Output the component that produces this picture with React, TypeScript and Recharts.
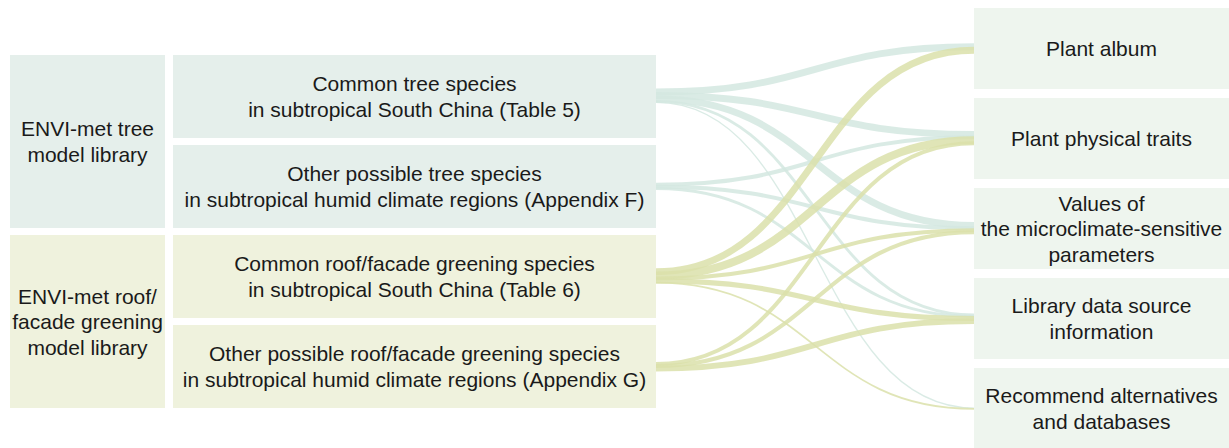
import React from 'react';
import { LineChart, Line, XAxis, YAxis, ReferenceArea } from 'recharts';

// ---------- data ----------
const groupLabels = ['ENVI-met tree\nmodel library', 'ENVI-met roof/\nfacade greening\nmodel library'];
const sourceLabels = [
  'Common tree species\nin subtropical South China (Table 5)',
  'Other possible tree species\nin subtropical humid climate regions (Appendix F)',
  'Common roof/facade greening species\nin subtropical South China (Table 6)',
  'Other possible roof/facade greening species\nin subtropical humid climate regions (Appendix G)',
];
const sourceGroup = [0, 0, 1, 1];
const targetLabels = [
  'Plant album',
  'Plant physical traits',
  'Values of\nthe microclimate-sensitive\nparameters',
  'Library data source\ninformation',
  'Recommend alternatives\nand databases',
];
const linkSource = [0, 0, 0, 0, 0, 1, 1, 1, 2, 2, 2, 2, 2, 3, 3, 3];
const linkTarget = [0, 1, 2, 3, 4, 1, 2, 3, 0, 1, 2, 3, 4, 1, 2, 3];
const linkValue = [6, 6, 6, 2.5, 1.2, 3.5, 3.5, 2.5, 6, 7, 3.5, 4.5, 1.5, 3.5, 3.5, 5];

// ---------- layout & styles ----------
const W = 1229;
const H = 448;
const FONT = '"Liberation Sans", Arial, Helvetica, sans-serif';
const FONT_SIZE = 21;
const LINE_H = 25.5;
const groupBoxFill = ['#e5efeb', '#eff2dd'];
const linkColor = ['#d3e8e1', '#dae1aa'];
const rightBoxFill = '#eef5ee';
const GROUP_COL = { x1: 10, x2: 165 };
const MID_COL = { x1: 173, x2: 656, top: 55, pitch: 90, h: 83 };
const RIGHT_COL = { x1: 974, x2: 1229, top: 8, pitch: 90, h: 81 };
const WIDTH_SCALE = 1.15; // stroke px per unit of value
const SQUEEZE = 0.5; // bundling of links where they meet a box

const midTop = (i: number) => MID_COL.top + i * MID_COL.pitch;
const rightTop = (j: number) => RIGHT_COL.top + j * RIGHT_COL.pitch;

// link table built from the arrays above
function buildLinks() {
  const n = linkSource.length;
  const sOff: number[] = new Array(n).fill(0);
  const tOff: number[] = new Array(n).fill(0);
  sourceLabels.forEach((_, s) => {
    const idx = linkSource.map((v, i) => i).filter((i) => linkSource[i] === s).sort((a, b) => linkTarget[a] - linkTarget[b]);
    const tot = idx.reduce((acc, i) => acc + linkValue[i] * WIDTH_SCALE, 0);
    let cum = -tot / 2;
    idx.forEach((i) => {
      const w = linkValue[i] * WIDTH_SCALE;
      sOff[i] = (cum + w / 2) * SQUEEZE;
      cum += w;
    });
  });
  targetLabels.forEach((_, t) => {
    const idx = linkTarget.map((v, i) => i).filter((i) => linkTarget[i] === t).sort((a, b) => linkSource[a] - linkSource[b]);
    const tot = idx.reduce((acc, i) => acc + linkValue[i] * WIDTH_SCALE, 0);
    let cum = -tot / 2;
    idx.forEach((i) => {
      const w = linkValue[i] * WIDTH_SCALE;
      tOff[i] = (cum + w / 2) * SQUEEZE;
      cum += w;
    });
  });
  return linkSource.map((s, i) => {
    const t = linkTarget[i];
    return {
      key: `link-${i}`,
      group: sourceGroup[s],
      width: linkValue[i] * WIDTH_SCALE,
      data: [
        { x: MID_COL.x2, y: midTop(s) + MID_COL.h / 2 + sOff[i] },
        { x: RIGHT_COL.x1, y: rightTop(t) + RIGHT_COL.h / 2 + tOff[i] },
      ],
    };
  });
}
const links = buildLinks();

function MultiText({ cx, cy, text }: { cx: number; cy: number; text: string }) {
  const lines = text.split('\n');
  const first = cy - ((lines.length - 1) * LINE_H) / 2 + FONT_SIZE * 0.36;
  return (
    <text x={cx} y={first} textAnchor="middle" fontFamily={FONT} fontSize={FONT_SIZE} fill="#1a1a1a">
      {lines.map((l, i) => (
        <tspan key={i} x={cx} y={first + i * LINE_H}>
          {l}
        </tspan>
      ))}
    </text>
  );
}

const boxShape = (fill: string, text: string) => (p: any) => {
  const { x, y, width, height } = p;
  return (
    <g>
      <rect x={x} y={y} width={width} height={height} fill={fill} />
      <MultiText cx={x + width / 2} cy={y + height / 2} text={text} />
    </g>
  );
};

export default function App() {
  const groupAreas = groupLabels.map((label, g) => {
    const members = sourceGroup.map((v, i) => i).filter((i) => sourceGroup[i] === g);
    const y1 = midTop(members[0]);
    const y2 = midTop(members[members.length - 1]) + MID_COL.h;
    return (
      <ReferenceArea
        key={`g-${g}`}
        x1={GROUP_COL.x1}
        x2={GROUP_COL.x2}
        y1={y1}
        y2={y2}
        ifOverflow="visible"
        shape={boxShape(groupBoxFill[g], label)}
      />
    );
  });
  const srcAreas = sourceLabels.map((label, i) => (
    <ReferenceArea
      key={`s-${i}`}
      x1={MID_COL.x1}
      x2={MID_COL.x2}
      y1={midTop(i)}
      y2={midTop(i) + MID_COL.h}
      ifOverflow="visible"
      shape={boxShape(groupBoxFill[sourceGroup[i]], label)}
    />
  ));
  const tgtAreas = targetLabels.map((label, j) => (
    <ReferenceArea
      key={`t-${j}`}
      x1={RIGHT_COL.x1}
      x2={RIGHT_COL.x2}
      y1={rightTop(j)}
      y2={rightTop(j) + RIGHT_COL.h}
      ifOverflow="visible"
      shape={boxShape(rightBoxFill, label)}
    />
  ));
  return (
    <div style={{ position: 'absolute', left: 0, top: 0, width: W, height: H, background: '#fff', overflow: 'hidden' }}>
      <LineChart width={W} height={H} margin={{ top: 0, right: 0, bottom: 0, left: 0 }}>
        <XAxis type="number" dataKey="x" domain={[0, W]} allowDataOverflow hide />
        <YAxis type="number" dataKey="y" domain={[0, H]} allowDataOverflow reversed hide />
        {groupAreas}
        {srcAreas}
        {tgtAreas}
        {links.map((l) => (
          <Line
            key={l.key}
            data={l.data}
            dataKey="y"
            type="bumpX"
            stroke={linkColor[l.group]}
            strokeOpacity={0.85}
            strokeWidth={l.width}
            dot={false}
            activeDot={false}
            isAnimationActive={false}
          />
        ))}
      </LineChart>
    </div>
  );
}
